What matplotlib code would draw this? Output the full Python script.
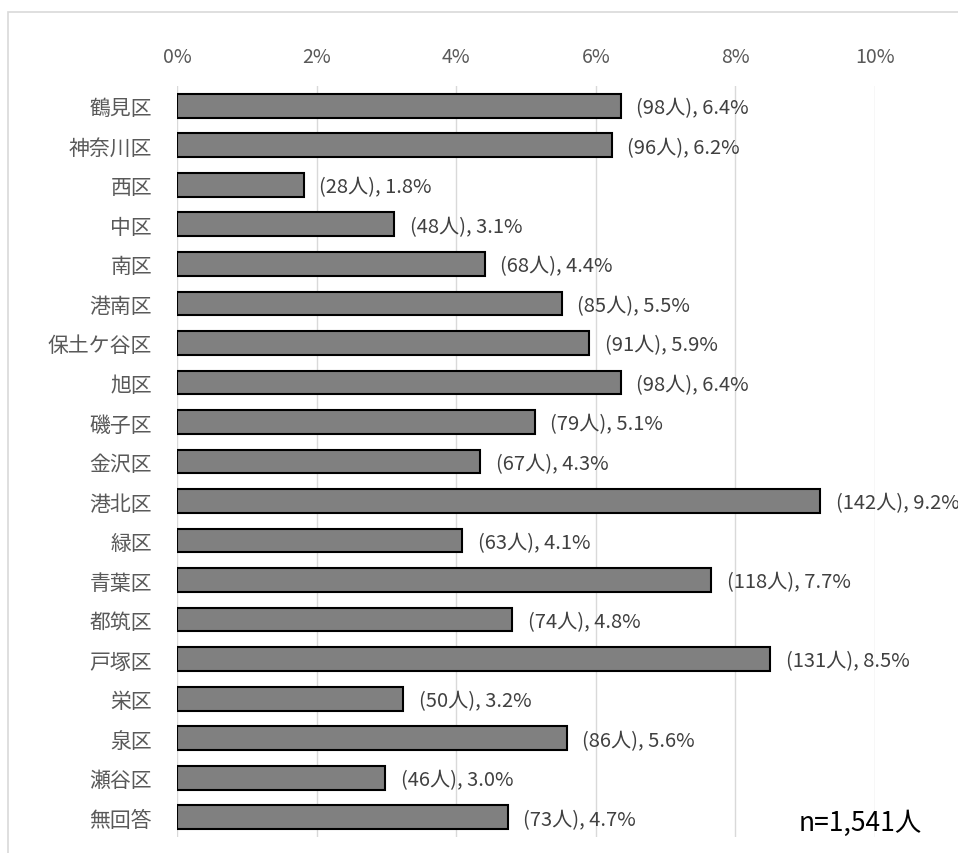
import matplotlib
matplotlib.use("Agg")
import matplotlib.pyplot as plt
from matplotlib.patches import Rectangle

categories = ["鶴見区", "神奈川区", "西区", "中区", "南区", "港南区", "保土ケ谷区", "旭区",
              "磯子区", "金沢区", "港北区", "緑区", "青葉区", "都筑区", "戸塚区", "栄区",
              "泉区", "瀬谷区", "無回答"]
counts = [98, 96, 28, 48, 68, 85, 91, 98, 79, 67, 142, 63, 118, 74, 131, 50, 86, 46, 73]
total = 1541
xticks = [0, 2, 4, 6, 8, 10]
xticklabels = ["0%", "2%", "4%", "6%", "8%", "10%"]

pcts = [c / total * 100 for c in counts]

fam = ["Noto Sans CJK JP", "DejaVu Sans"]
plt.rcParams['font.family'] = fam

W, H = 958, 854
fig = plt.figure(figsize=(W / 100, H / 100), dpi=100)
ax = fig.add_axes([177 / W, 1 - 838 / H, (875 - 177) / W, (838 - 87) / H])

ypos = list(range(len(categories)))
ax.barh(ypos, pcts, height=0.6, color="#808080", edgecolor="#000000", linewidth=1.5, zorder=3)
ax.set_ylim(len(categories) - 0.5, -0.5)
ax.set_xlim(0, 10)
ax.set_yticks(ypos)
ax.set_yticklabels(categories, fontsize=15, color="#595959")
ax.set_xticks(xticks)
ax.set_xticklabels(xticklabels, fontsize=14, color="#595959")
ax.xaxis.tick_top()
ax.tick_params(axis="x", length=0, pad=14)
ax.tick_params(axis="y", length=0, pad=18)
for s in ax.spines.values():
    s.set_visible(False)
ax.grid(axis="x", color="#d9d9d9", linewidth=1, zorder=0)
ax.set_axisbelow(True)

for y, c, p in zip(ypos, counts, pcts):
    ax.text(p + 0.22, y + 0.05, f"({c}人), {p:.1f}%", va="center", ha="left",
            fontsize=14.5, color="#404040", clip_on=False)

ax.text((922 - 177) / 698, (838 - 823) / 751, f"n={total:,}人", transform=ax.transAxes,
        ha="right", va="center", fontsize=19, color="#000000")

fig.patches.append(Rectangle((8 / W, -0.1), 1.2, 1 - 13 / H + 0.1, transform=fig.transFigure,
                             fill=False, edgecolor="#d9d9d9", linewidth=1.2))

fig.savefig("out.png", dpi=100)
